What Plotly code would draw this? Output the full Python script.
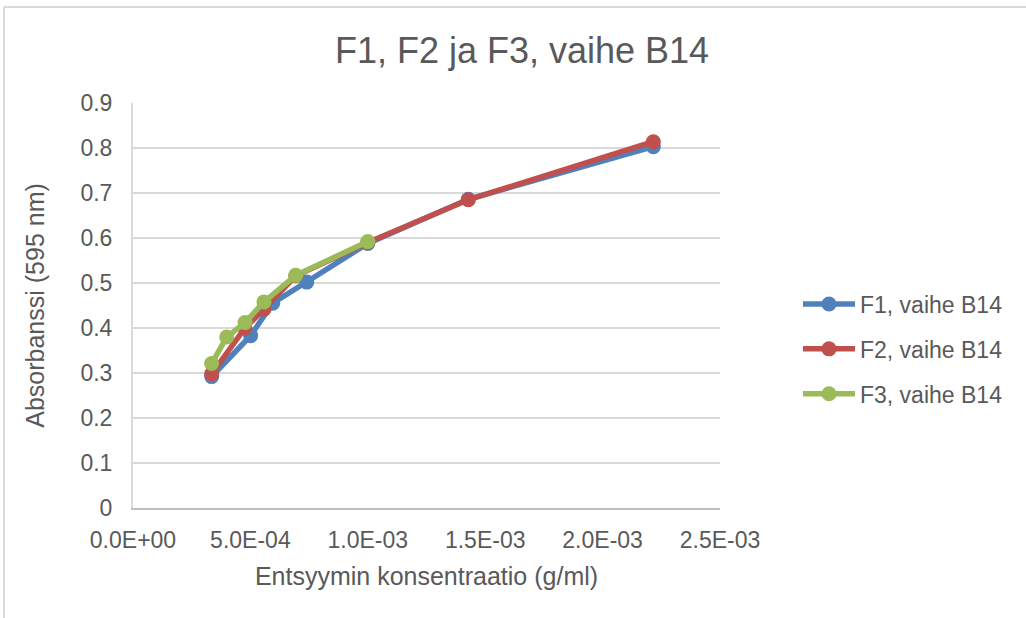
import plotly.graph_objects as go

# Enzyme concentration (g/ml) and absorbance at 595 nm for each fraction
f1_conc = [0.335e-3, 0.501e-3, 0.595e-3, 0.740e-3, 1.000e-3, 1.428e-3, 2.216e-3]
f1_abs = [0.292, 0.383, 0.455, 0.502, 0.588, 0.686, 0.803]

f2_conc = [0.335e-3, 0.477e-3, 0.558e-3, 0.693e-3, 1.000e-3, 1.428e-3, 2.216e-3]
f2_abs = [0.298, 0.400, 0.442, 0.516, 0.590, 0.685, 0.814]

f3_conc = [0.335e-3, 0.399e-3, 0.477e-3, 0.558e-3, 0.693e-3, 1.000e-3]
f3_abs = [0.321, 0.380, 0.412, 0.458, 0.517, 0.592]

series_names = ["F1, vaihe B14", "F2, vaihe B14", "F3, vaihe B14"]
series_colors = ["#4F81BD", "#C0504D", "#9BBB59"]

x_tick_vals = [0, 0.5e-3, 1.0e-3, 1.5e-3, 2.0e-3, 2.5e-3]
x_tick_text = [f"{v:.1E}" for v in x_tick_vals]

FONT = "Liberation Sans, Arial, sans-serif"
TEXT = "#595959"
GRID = "#D9D9D9"

fig = go.Figure()
for i, (xs, ys, name, color) in enumerate(zip(
    [f1_conc, f2_conc, f3_conc],
    [f1_abs, f2_abs, f3_abs],
    series_names,
    series_colors,
)):
    fig.add_trace(
        go.Scatter(
            x=xs,
            y=ys,
            name=name,
            legendgroup=f"g{i}",
            mode="lines+markers",
            line=dict(color=color, width=5.5),
            marker=dict(color=color, size=15, line=dict(width=0)),
        )
    )

# outer chart frame (top and left edges)
L, R, T, B = 133, 306, 103, 110
W, H = 1026, 618
pw, ph = W - L - R, H - T - B
fx = (4 - L) / pw
fy = (H - B - 7) / ph
fig.add_shape(type="line", xref="paper", yref="paper", x0=fx, x1=fx, y0=-0.5, y1=fy,
              line=dict(color=GRID, width=2), layer="below")
fig.add_shape(type="line", xref="paper", yref="paper", x0=fx, x1=2.0, y0=fy, y1=fy,
              line=dict(color=GRID, width=2), layer="below")

fig.update_layout(
    width=W,
    height=H,
    margin=dict(l=L, r=R, t=T, b=B),
    paper_bgcolor="white",
    plot_bgcolor="white",
    font=dict(family=FONT, color=TEXT),
    title=dict(
        text="F1, F2 ja F3, vaihe B14",
        font=dict(size=36, color=TEXT, family=FONT),
        x=522 / W,
        xanchor="center",
        xref="container",
        y=1 - 50 / H,
        yanchor="middle",
        yref="container",
    ),
    legend=dict(
        x=(798 - L) / pw,
        xanchor="left",
        y=(H - B - 349) / ph,
        yanchor="middle",
        font=dict(size=23, color=TEXT, family=FONT),
        bgcolor="rgba(0,0,0,0)",
        tracegroupgap=12,
        traceorder="grouped",
        itemwidth=52,
    ),
    showlegend=True,
)

fig.update_xaxes(
    range=[0, 2.5e-3],
    tickvals=x_tick_vals,
    ticktext=x_tick_text,
    tickfont=dict(size=23, color=TEXT, family=FONT),
    ticklabelstandoff=10,
    showgrid=False,
    zeroline=False,
    showline=True,
    linecolor="#BFBFBF",
    linewidth=2,
    ticks="",
    title=dict(text="Entsyymin konsentraatio (g/ml)", font=dict(size=25, color=TEXT, family=FONT), standoff=16),
)
fig.update_yaxes(
    range=[0, 0.9],
    dtick=0.1,
    tick0=0,
    tickfont=dict(size=23, color=TEXT, family=FONT),
    ticklabelstandoff=14,
    showgrid=True,
    gridcolor=GRID,
    gridwidth=2,
    zeroline=False,
    showline=True,
    linecolor=GRID,
    linewidth=2,
    ticks="",
    title=dict(text="Absorbanssi (595 nm)", font=dict(size=25, color=TEXT, family=FONT), standoff=29),
)

fig.write_html("out.html")
